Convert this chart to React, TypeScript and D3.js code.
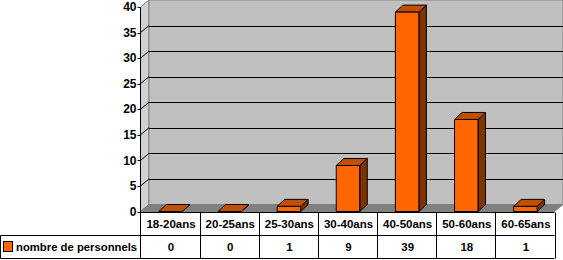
import React from "react";
import * as d3 from "d3";

const categories = ["18-20ans", "20-25ans", "25-30ans", "30-40ans", "40-50ans", "50-60ans", "60-65ans"];
const values = [0, 0, 1, 9, 39, 18, 1];
const seriesName = "nombre de personnels";
const yTicks = [0, 5, 10, 15, 20, 25, 30, 35, 40];

const W = 563;
const H = 260;
const FRONT_L = 140.5;
const FRONT_R = 554.5;
const Y0 = 211.5;
const YTOP = 7;
const WDX = 8.5;
const WDY = -7;
const BDX = 7.5;
const BDY = -7;
const BAR_W = 23.5;
const ROW1 = 212.5;
const ROW2 = 235.5;
const ROW3 = 258.5;
const FONT = "'Liberation Sans', Arial, Helvetica, sans-serif";

export default function App() {
  const x = d3.scaleBand<string>().domain(categories).range([FRONT_L, FRONT_R]).padding(0);
  const y = d3.scaleLinear().domain([0, 40]).range([Y0, YTOP]);
  const bw = x.bandwidth();

  const pts = (arr: number[][]) => arr.map((p) => p.join(",")).join(" ");

  return (
    <svg width={W} height={H} style={{ position: "fixed", left: 0, top: 0, background: "#fff" }} fontFamily={FONT}>
      {/* side wall */}
      <polygon
        points={pts([[FRONT_L, y(40)], [FRONT_L + WDX, y(40) + WDY], [FRONT_L + WDX, Y0 + WDY], [FRONT_L, Y0]])}
        fill="#d0d0d0"
        stroke="#808080"
        strokeWidth={1}
      />
      {/* back wall */}
      <rect x={FRONT_L + WDX} y={y(40) + WDY} width={FRONT_R - FRONT_L} height={Y0 - y(40)} fill="#c0c0c0" stroke="#808080" strokeWidth={1} />
      {/* floor */}
      <polygon
        points={pts([[FRONT_L, Y0], [FRONT_L + WDX, Y0 + WDY], [FRONT_R + WDX, Y0 + WDY], [FRONT_R, Y0]])}
        fill="#808080"
        stroke="#808080"
        strokeWidth={1}
      />
      {/* gridlines */}
      {yTicks.filter((t) => t > 0 && t < 40).map((t) => (
        <g key={t}>
          <line x1={FRONT_L} y1={y(t)} x2={FRONT_L + WDX} y2={y(t) + WDY} stroke="#000" strokeWidth={1} />
          <line x1={FRONT_L + WDX} y1={Math.round(y(t) + WDY) + 0.5} x2={FRONT_R + WDX} y2={Math.round(y(t) + WDY) + 0.5} stroke="#000" strokeWidth={1} />
        </g>
      ))}
      {/* bars */}
      {categories.map((c, i) => {
        const cx = (x(c) as number) + bw / 2 + 0.5;
        const l = cx - BAR_W / 2;
        const r = cx + BAR_W / 2;
        const top = y(values[i]);
        return (
          <g key={c} stroke="#000" strokeWidth={1} strokeLinejoin="round">
            <polygon points={pts([[r, top], [r + BDX, top + BDY], [r + BDX, Y0 + BDY], [r, Y0]])} fill="#7f3300" />
            <polygon points={pts([[l, top], [l + BDX, top + BDY], [r + BDX, top + BDY], [r, top]])} fill="#c05000" />
            <rect x={l} y={top} width={BAR_W} height={Y0 - top} fill="#ff6600" />
          </g>
        );
      })}
      {/* y axis */}
      <line x1={FRONT_L} y1={y(40)} x2={FRONT_L} y2={ROW3} stroke="#000" strokeWidth={1} />
      {yTicks.map((t) => (
        <g key={"t" + t}>
          <line x1={FRONT_L - 3} y1={Math.round(y(t)) + 0.5} x2={FRONT_L} y2={Math.round(y(t)) + 0.5} stroke="#000" strokeWidth={1} />
          <text x={FRONT_L - 4} y={y(t)} dy="0.35em" textAnchor="end" fontSize={12} fontWeight="bold" fill="#000">
            {t}
          </text>
        </g>
      ))}
      {/* table */}
      <line x1={FRONT_L} y1={ROW1} x2={FRONT_R} y2={ROW1} stroke="#000" strokeWidth={1} />
      <line x1={0.5} y1={ROW2} x2={FRONT_R} y2={ROW2} stroke="#000" strokeWidth={1} />
      <line x1={0.5} y1={ROW3} x2={FRONT_R} y2={ROW3} stroke="#000" strokeWidth={1} />
      <line x1={0.5} y1={ROW2} x2={0.5} y2={ROW3} stroke="#000" strokeWidth={1} />
      {categories.map((c, i) => {
        const xr = Math.round((x(c) as number) + bw) + 0.5;
        const cx = (x(c) as number) + bw / 2;
        return (
          <g key={"c" + c}>
            <line x1={xr} y1={ROW1} x2={xr} y2={ROW3} stroke="#000" strokeWidth={1} />
            <text x={cx + 1} y={(ROW1 + ROW2) / 2} dy="0.36em" textAnchor="middle" fontSize={11.5} fontWeight="bold" fill="#000">
              {c}
            </text>
            <text x={cx + 1} y={(ROW2 + ROW3) / 2} dy="0.36em" textAnchor="middle" fontSize={11.5} fontWeight="bold" fill="#000">
              {values[i]}
            </text>
          </g>
        );
      })}
      <rect x={3.5} y={241.5} width={9} height={10} fill="#ff6600" stroke="#000" strokeWidth={1} />
      <text x={16} y={(ROW2 + ROW3) / 2} dy="0.36em" fontSize={11.3} fontWeight="bold" fill="#000">
        {seriesName}
      </text>
    </svg>
  );
}
